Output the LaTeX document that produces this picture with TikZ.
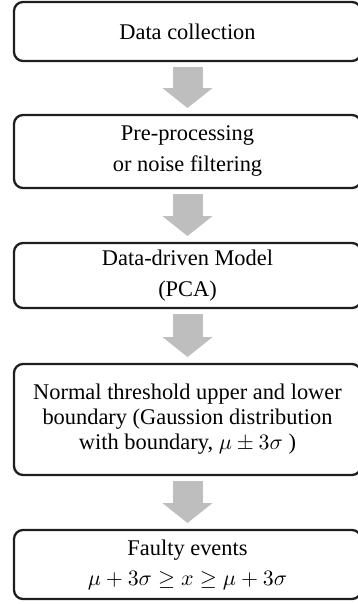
\documentclass[tikz,border=0pt]{standalone}
\usepackage{fontspec}
\setmainfont{Liberation Serif}
\usetikzlibrary{arrows.meta}
\definecolor{boxline}{RGB}{30,30,30}
\definecolor{arrowgray}{RGB}{190,190,190}
\tikzset{
  flowbox/.style={draw=boxline, line width=1.15pt, rounded corners=4.5pt,
    minimum width=173.5pt, align=center, inner sep=0pt},
  flowarrow/.style={draw=arrowgray, line width=15pt,
    -{Triangle[width=24.5pt,length=10pt]}, shorten <=2.4pt, shorten >=2.9pt}
}
\begin{document}
\begin{tikzpicture}[x=0.5pt, y=-0.5pt]
\useasboundingbox (0,0) rectangle (358,604);
\clip (0,0) rectangle (358,604);
\node[flowbox, minimum height=29.5pt, font=\fontsize{11.2}{15}\selectfont] (b1) at (187.5,31.5) {Data collection};
\node[flowbox, minimum height=36.5pt, font=\fontsize{11.2}{15.5}\selectfont] (b2) at (187.5,151.5) {Pre-processing\\or noise filtering};
\node[flowbox, minimum height=32.5pt, font=\fontsize{11.2}{15.5}\selectfont] (b3) at (187.5,275.5) {Data-driven Model\\(PCA)};
\node[flowbox, minimum height=55.5pt, font=\fontsize{11.2}{12.5}\selectfont] (b4) at (187.5,419.5) {Normal threshold upper and lower\\boundary (Gaussion distribution\\with boundary, $\mu \pm 3\sigma$ )};
\node[flowbox, minimum height=34.5pt, font=\fontsize{11.2}{15}\selectfont] (b5) at (187.5,564.5) {Faulty events\\$\mu + 3\sigma \geq x \geq \mu + 3\sigma$};
\draw[flowarrow] (b1) -- (b2);
\draw[flowarrow] (b2) -- (b3);
\draw[flowarrow] (b3) -- (b4);
\draw[flowarrow] (b4) -- (b5);
\end{tikzpicture}
\end{document}
